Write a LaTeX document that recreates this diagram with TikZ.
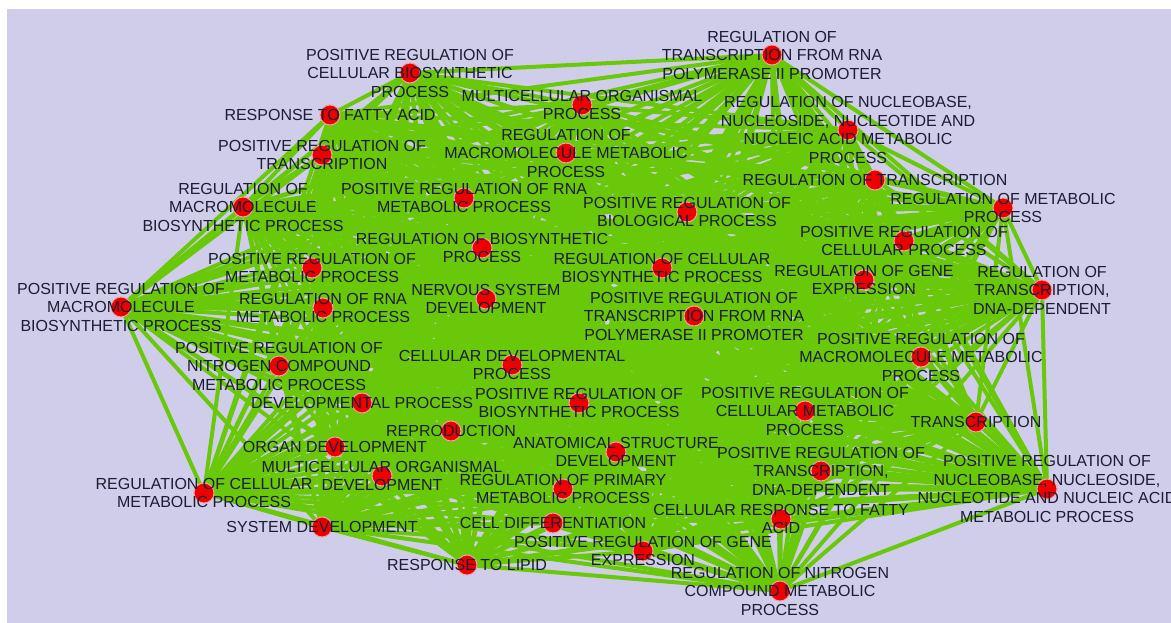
\documentclass[tikz,border=0pt]{standalone}
\usepackage{fontspec}
\setmainfont{Liberation Sans}
\pgfdeclarelayer{bg}
\pgfdeclarelayer{fg}
\pgfsetlayers{bg,main,fg}
\definecolor{lav}{RGB}{207,205,234}
\definecolor{edgegreen}{RGB}{106,200,10}
\definecolor{dotred}{RGB}{238,0,0}
\definecolor{dotrim}{RGB}{240,160,160}
\definecolor{txt}{RGB}{28,28,50}
\tikzset{
  dot/.style={circle,fill=dotred,draw=dotrim,line width=1pt,minimum size=20pt,inner sep=0pt},
  lab/.style={align=center,inner sep=0pt,text=txt,font=\fontsize{16}{18.5}\selectfont},
  edge/.style={draw=edgegreen,line width=4pt}
}
\begin{document}
\begin{tikzpicture}[x=1pt,y=-1pt]
\useasboundingbox (0,0) rectangle (1171,623);
\begin{pgfonlayer}{bg}
\fill[white] (0,0) rectangle (1171,623);
\fill[lav] (7,9) rectangle (1171,623);
\end{pgfonlayer}
\foreach \n/\x/\y/\t in {
1/410/73/{POSITIVE REGULATION OF\\CELLULAR BIOSYNTHETIC\\PROCESS},
2/330/115/{RESPONSE TO FATTY ACID},
3/322/155/{POSITIVE REGULATION OF\\TRANSCRIPTION},
4/243/207/{REGULATION OF\\MACROMOLECULE\\BIOSYNTHETIC PROCESS},
5/121/307/{POSITIVE REGULATION OF\\MACROMOLECULE\\BIOSYNTHETIC PROCESS},
6/312/268/{POSITIVE REGULATION OF\\METABOLIC PROCESS},
7/323/308/{REGULATION OF RNA\\METABOLIC PROCESS},
8/279/366/{POSITIVE REGULATION OF\\NITROGEN COMPOUND\\METABOLIC PROCESS},
9/362/403/{DEVELOPMENTAL PROCESS},
10/335/447/{ORGAN DEVELOPMENT},
11/382/476/{MULTICELLULAR ORGANISMAL\\DEVELOPMENT},
12/204/493/{REGULATION OF CELLULAR\\METABOLIC PROCESS},
13/322/527/{SYSTEM DEVELOPMENT},
14/467/565/{RESPONSE TO LIPID},
15/451/431/{REPRODUCTION},
16/512/365/{CELLULAR DEVELOPMENTAL\\PROCESS},
17/579/403/{POSITIVE REGULATION OF\\BIOSYNTHETIC PROCESS},
18/616/452/{ANATOMICAL STRUCTURE\\DEVELOPMENT},
19/563/489/{REGULATION OF PRIMARY\\METABOLIC PROCESS},
20/553/523/{CELL DIFFERENTIATION},
21/643/551/{POSITIVE REGULATION OF GENE\\EXPRESSION},
22/780/591/{REGULATION OF NITROGEN\\COMPOUND METABOLIC\\PROCESS},
23/781/519/{CELLULAR RESPONSE TO FATTY\\ACID},
24/821/471/{POSITIVE REGULATION OF\\TRANSCRIPTION,\\DNA-DEPENDENT},
25/805/411/{POSITIVE REGULATION OF\\CELLULAR METABOLIC\\PROCESS},
26/976/422/{TRANSCRIPTION},
27/1047/489/{POSITIVE REGULATION OF\\NUCLEOBASE, NUCLEOSIDE,\\NUCLEOTIDE AND NUCLEIC ACID\\METABOLIC PROCESS},
28/921/357/{POSITIVE REGULATION OF\\MACROMOLECULE METABOLIC\\PROCESS},
29/1042/290/{REGULATION OF\\TRANSCRIPTION,\\DNA-DEPENDENT},
30/864/280/{REGULATION OF GENE\\EXPRESSION},
31/904/241/{POSITIVE REGULATION OF\\CELLULAR PROCESS},
32/1003/208/{REGULATION OF METABOLIC\\PROCESS},
33/875/180/{REGULATION OF TRANSCRIPTION},
34/848/130/{REGULATION OF NUCLEOBASE,\\NUCLEOSIDE, NUCLEOTIDE AND\\NUCLEIC ACID METABOLIC\\PROCESS},
35/772/55/{REGULATION OF\\TRANSCRIPTION FROM RNA\\POLYMERASE II PROMOTER},
36/582/105/{MULTICELLULAR ORGANISMAL\\PROCESS},
37/566/153/{REGULATION OF\\MACROMOLECULE METABOLIC\\PROCESS},
38/464/198/{POSITIVE REGULATION OF RNA\\METABOLIC PROCESS},
39/687/212/{POSITIVE REGULATION OF\\BIOLOGICAL PROCESS},
40/482/248/{REGULATION OF BIOSYNTHETIC\\PROCESS},
41/662/268/{REGULATION OF CELLULAR\\BIOSYNTHETIC PROCESS},
42/486/299/{NERVOUS SYSTEM\\DEVELOPMENT},
43/694/316/{POSITIVE REGULATION OF\\TRANSCRIPTION FROM RNA\\POLYMERASE II PROMOTER}}{
  \node[dot] (n\n) at (\x,\y) {};
  \begin{pgfonlayer}{fg}
  \node[lab] (t\n) at (n\n.center) {\t};
  \end{pgfonlayer}
}
\begin{pgfonlayer}{bg}
\foreach \i in {1,...,42}{
  \pgfmathtruncatemacro\js{\i+1}
  \foreach \j in {\js,...,43}{
    \draw[edge] (n\i.center) -- (n\j.center);
  }
}
\end{pgfonlayer}
\end{tikzpicture}
\end{document}
